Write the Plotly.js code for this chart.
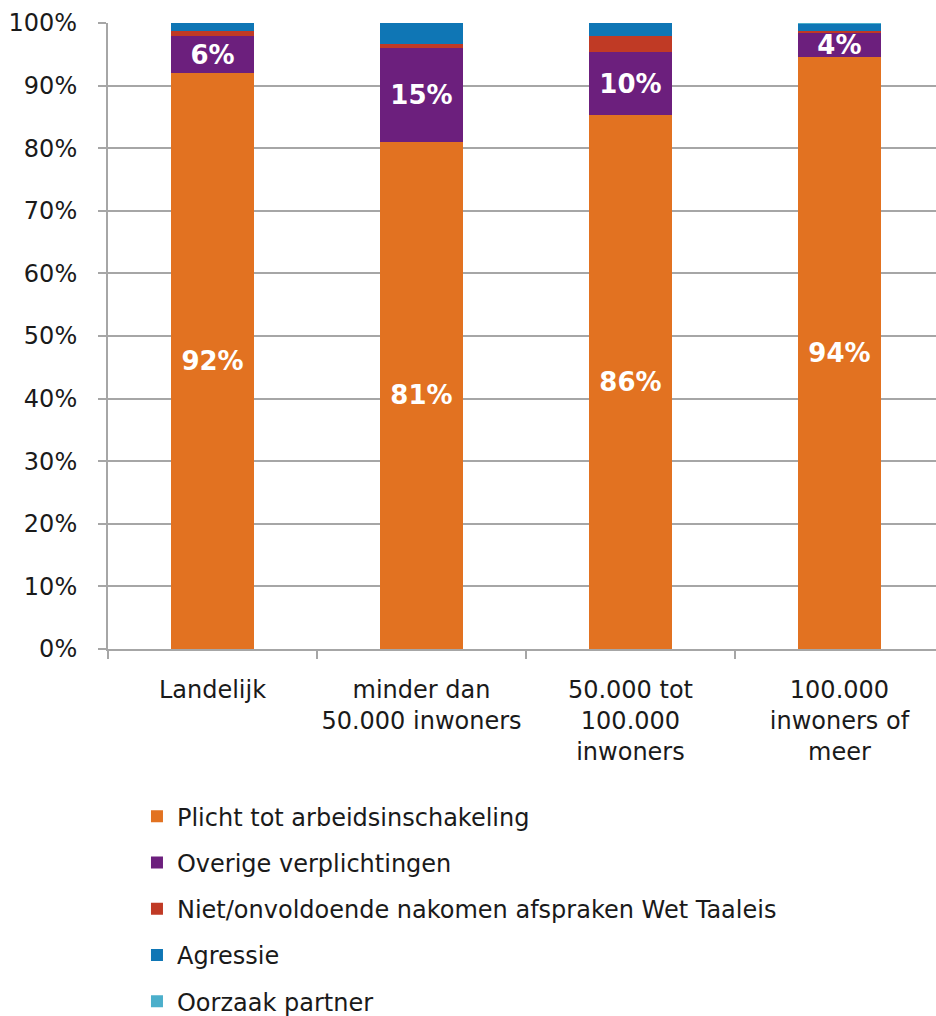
<!DOCTYPE html>
<html>
<head>
<meta charset="utf-8">
<script src="https://cdn.plot.ly/plotly-3.0.1.min.js"></script>
<style>html,body{margin:0;padding:0;background:#fff;}</style>
</head>
<body>
<div id="chart" style="width:936px;height:1016px;"></div>
<script>
const categories = ["Landelijk", "minder dan<br>50.000 inwoners", "50.000 tot<br>100.000<br>inwoners", "100.000<br>inwoners of<br>meer"];
const plicht = [92.0, 81.0, 85.3, 94.5];
const overige = [5.9, 15.0, 10.0, 3.9];
const taaleis = [0.8, 0.6, 2.7, 0.4];
const agressie = [1.3, 3.4, 2.0, 1.1];
const partner = [0.0, 0.0, 0.0, 0.1];
const plichtLabels = ["92%", "81%", "86%", "94%"];
const overigeLabels = ["6%", "15%", "10%", "4%"];

const names = ["Plicht tot arbeidsinschakeling", "Overige verplichtingen", "Niet/onvoldoende nakomen afspraken Wet Taaleis", "Agressie", "Oorzaak partner"];
const colors = ["#E27221", "#6C1F7D", "#C03A25", "#0F76B5", "#4BAFCB"];
const series = [plicht, overige, taaleis, agressie, partner];
const labels = [plichtLabels, overigeLabels, null, null, null];

const traces = series.map((s, i) => ({
  type: "bar",
  x: categories,
  y: s,
  name: names[i],
  legendgroup: "g" + i,
  marker: {color: colors[i], line: {width: 0}},
  text: labels[i] || undefined,
  texttemplate: labels[i] ? "%{text}" : "",
  textposition: labels[i] ? "inside" : "none",
  insidetextanchor: "middle",
  textangle: 0,
  constraintext: "none",
  textfont: {family: "DejaVu Sans", size: 26, color: "#ffffff", weight: "bold"},
  hoverinfo: "none"
}));

const layout = {
  barmode: "stack",
  bargap: 0.6,
  width: 936,
  height: 1016,
  margin: {l: 108, r: 0, t: 23, b: 367, autoexpand: false},
  paper_bgcolor: "#ffffff",
  plot_bgcolor: "#ffffff",
  font: {family: "DejaVu Sans", size: 24, color: "#1a1a1a"},
  xaxis: {
    type: "category",
    range: [-0.5, 3.462],
    automargin: false,
    tickangle: 0,
    showline: true, linecolor: "#A6A6A6", linewidth: 2,
    ticks: "outside", ticklen: 8, tickcolor: "#A6A6A6", tickwidth: 2,
    tickson: "boundaries",
    showgrid: false,
    ticklabelstandoff: 18,
    tickfont: {family: "DejaVu Sans", size: 24, color: "#1a1a1a"}
  },
  yaxis: {
    range: [0, 100],
    automargin: false,
    tickvals: [0,10,20,30,40,50,60,70,80,90,100],
    ticktext: ["0%","10%","20%","30%","40%","50%","60%","70%","80%","90%","100%"],
    showline: true, linecolor: "#A6A6A6", linewidth: 2,
    ticks: "outside", ticklen: 8, tickcolor: "#A6A6A6", tickwidth: 2,
    showgrid: true, gridcolor: "#A6A6A6", gridwidth: 2,
    zeroline: false,
    ticklabelstandoff: 16,
    tickfont: {family: "DejaVu Sans", size: 24, color: "#1a1a1a"}
  },
  showlegend: true,
  legend: {
    orientation: "v",
    traceorder: "grouped",
    tracegroupgap: 12,
    x: 0.035, y: -0.232, xanchor: "left", yanchor: "top",
    font: {family: "DejaVu Sans", size: 24, color: "#1a1a1a"},
    itemwidth: 30,
    bgcolor: "rgba(0,0,0,0)"
  }
};

Plotly.newPlot("chart", traces, layout, {displayModeBar: false, staticPlot: true});
</script>
</body>
</html>
